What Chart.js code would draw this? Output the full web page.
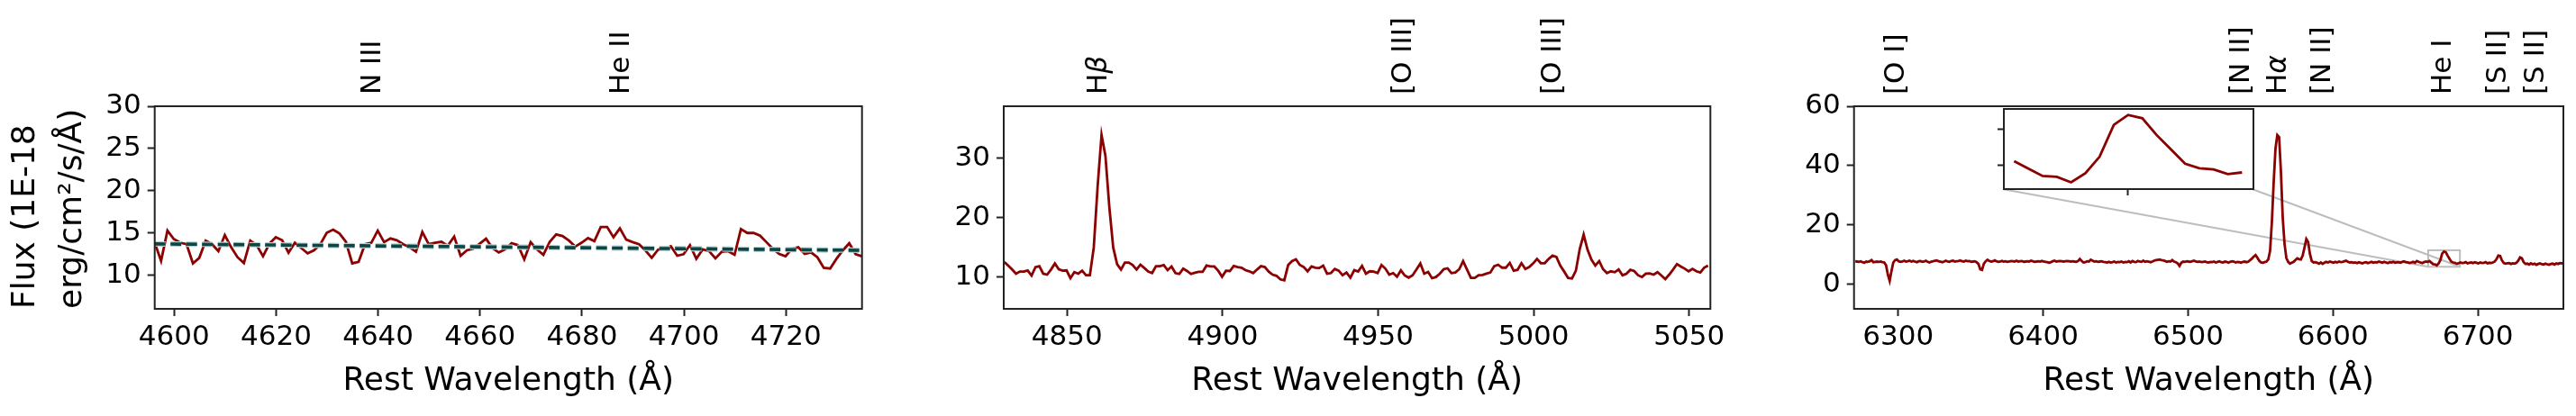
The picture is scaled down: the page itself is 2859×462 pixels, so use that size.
<!DOCTYPE html>
<html><head><meta charset="utf-8">
<script src="https://cdn.jsdelivr.net/npm/chart.js@4.4.0/dist/chart.umd.min.js"></script>
<style>
html,body{margin:0;padding:0;background:#fff;}
#wrap{position:relative;width:2859px;height:462px;overflow:hidden;background:#fff;}
canvas{position:absolute;top:0;}
</style></head><body>
<div id="wrap">
<canvas id="c1" width="975" height="462" style="left:0px"></canvas>
<canvas id="c2" width="960" height="462" style="left:975px"></canvas>
<canvas id="c3" width="924" height="462" style="left:1935px"></canvas>
<canvas id="c4" width="10" height="10" style="left:0px"></canvas>
</div>
<script>
// ---------- DATA ----------
const waveStep = 1.25;

// Panel 1 : N III / He II region
const wave1Start = 4596.18;
const flux1 = [
13.87,11.72,15.30,14.30,13.87,13.69,11.43,12.08,14.12,13.69,
12.87,14.77,13.33,12.15,11.47,14.12,13.58,12.26,13.76,14.52,
14.16,12.69,13.87,13.23,12.62,12.97,13.69,15.05,15.41,14.95,
13.98,11.43,11.61,13.69,13.87,15.30,13.94,14.37,14.16,13.69,
13.33,12.80,15.13,13.69,13.87,13.98,13.51,14.59,12.33,12.97,
13.15,13.76,14.34,13.23,12.72,13.08,13.80,
13.58,11.90,13.94,13.08,12.44,13.98,14.84,14.66,14.12,13.41,
13.87,14.41,14.05,15.73,15.73,14.52,15.56,14.23,13.94,13.69,
12.97,12.08,13.05,13.15,13.44,12.33,12.51,13.58,11.97,13.08,
12.87,12.01,12.80,12.87,12.44,15.48,15.02,15.02,14.70,13.94,
13.15,12.54,12.26,13.15,13.33,12.54,12.72,12.15,10.90,10.82,
11.97,12.97,13.80,12.51,12.26
];
const cont1 = [13.73, 12.97];
const xRange1 = [4596.18, 4734.93];
const yRange1 = [6.05, 30];
const xTicks1 = [4600, 4620, 4640, 4660, 4680, 4700, 4720];
const yTicks1 = [10, 15, 20, 25, 30];
const lineNames1 = ['N III', 'He II'];
const lineWaves1 = [4639.0, 4687.7];

// Panel 2 : Hbeta / [O III] region
const wave2Start = 4829.83;
const flux2 = [
12.53,11.92,11.26,10.56,10.91,10.91,11.11,10.25,11.67,11.82,
10.56,10.40,11.26,12.27,11.31,11.06,11.11,9.80,10.81,10.56,
11.06,10.30,10.30,14.95,25.30,33.89,30.35,21.77,14.95,12.17,
11.26,12.42,12.42,12.02,11.26,12.07,11.52,10.91,10.66,11.82,
11.82,12.02,11.16,11.77,10.66,10.51,11.41,11.01,10.51,10.71,
10.86,10.86,11.92,11.77,11.77,11.06,10.05,11.06,11.01,11.87,
11.67,11.57,11.16,10.96,10.66,11.26,11.82,11.67,10.91,10.40,
10.20,9.60,9.44,12.02,12.68,12.98,12.02,11.67,10.96,11.77,
11.57,11.52,11.92,10.56,10.66,11.36,11.06,10.30,10.76,9.90,
11.16,10.91,11.87,
10.56,10.96,10.91,10.66,12.02,11.41,10.40,10.66,10.05,11.11,
10.25,9.90,10.30,11.26,12.27,10.56,10.86,9.80,10.00,10.56,
11.31,11.46,10.66,10.76,11.31,12.68,11.26,9.85,9.85,10.30,
10.35,10.56,10.76,11.82,12.07,11.57,11.57,12.37,11.06,11.21,
12.32,11.36,11.67,12.27,13.03,12.32,12.32,13.03,13.59,13.38,
11.92,10.91,9.85,9.75,11.06,14.70,17.12,14.60,12.93,11.92,
12.68,11.31,10.66,10.96,10.81,11.26,10.30,10.56,11.21,11.01,
10.30,10.00,10.56,10.61,10.40,10.81,10.25,9.65,10.40,11.26,
12.17,11.77,11.41,10.96,11.36,10.96,10.76,11.57,11.92
];
const xRange2 = [4829.63, 5056.83];
const yRange2 = [4.65, 38.7];
const xTicks2 = [4850, 4900, 4950, 5000, 5050];
const yTicks2 = [10, 20, 30];
const lineNames2 = ['H\u03b2', '[O III]', '[O III]'];
const lineWaves2 = [4860.2, 4958.2, 5006.4];

// Panel 3 : [O I] / Halpha / [N II] / He I / [S II] region
const wave3Start = 6270.35;
const flux3 = [
7.7,7.6,7.5,7.7,7.4,7.2,7.6,7.5,7.7,8.1,
7.4,7.5,7.6,7.5,7.6,7.4,7.3,6.4,3.2,1.1,
4.4,7.3,8.1,8.3,7.7,7.5,7.6,7.9,7.6,7.7,
7.9,7.6,7.8,7.6,7.4,7.7,7.8,7.5,7.6,7.9,
7.5,7.3,7.6,7.7,7.9,8.0,7.7,7.6,7.4,7.6,
7.9,7.6,7.5,7.8,7.9,7.6,7.7,7.8,8.0,7.7,
7.6,7.9,7.7,7.8,7.5,7.6,7.7,7.4,6.8,5.0,
4.8,6.9,7.7,8.2,7.8,7.6,7.7,8.0,7.7,7.5,
7.6,7.8,7.6,7.7,7.5,7.6,7.8,7.7,7.6,7.9,
7.6,7.7,7.8,7.5,7.6,7.7,7.6,7.9,7.7,7.5,
7.6,7.7,7.6,7.8,7.6,7.5,7.4,7.2,7.4,7.7,
7.9,7.6,7.7,7.8,7.7,7.6,7.7,7.8,7.7,7.6,
7.7,7.6,7.5,7.8,8.5,7.8,7.3,7.4,7.7,7.6,
8.2,7.9,7.6,7.7,7.5,7.6,7.7,7.5,7.4,7.3,
7.5,7.3,7.4,7.6,7.3,7.5,7.4,7.6,7.3,7.5,
7.4,7.7,7.3,7.8,7.5,7.4,7.8,7.6,7.5,7.9,
7.5,7.7,7.6,7.4,7.6,7.9,8.1,8.2,8.3,8.1,
8.0,7.8,7.5,7.7,7.6,8.1,7.6,7.4,7.0,6.1,
7.2,7.6,7.5,7.7,7.6,7.5,7.7,7.9,7.6,7.5,
7.6,7.4,7.5,7.6,7.4,7.3,7.5,7.4,7.6,7.3,
7.5,7.7,7.4,7.3,7.6,7.5,7.2,7.5,7.7,7.6,
7.3,7.5,7.4,7.2,7.5,7.6,7.4,7.6,8.1,8.6,
9.3,9.8,8.9,7.9,7.3,7.2,7.4,7.6,8.3,11.2,
21.0,34.5,45.8,50.3,49.6,37.8,22.3,13.5,8.8,7.5,
6.9,7.2,7.5,8.1,8.7,8.4,8.3,9.6,12.3,15.2,
14.2,10.2,7.8,7.3,7.4,7.2,6.9,7.3,6.8,7.2,
7.5,7.3,7.6,7.4,7.2,7.5,7.3,7.6,7.4,7.5,
7.7,7.9,7.5,7.3,7.4,7.2,7.3,7.1,7.4,7.2,
7.0,7.3,7.4,7.1,7.3,7.5,7.2,7.4,7.3,7.6,
7.4,7.2,7.5,7.3,7.1,7.4,7.3,7.5,7.2,7.3,
7.4,7.2,7.5,7.7,7.4,7.3,7.1,7.3,7.5,7.2,
7.8,7.5,7.3,7.1,7.4,7.6,7.5,
7.79,7.27,6.75,6.69,6.31,6.94,8.09,10.31,11.0,10.77,
9.61,8.61,7.61,7.29,7.21,6.88,7.0,
7.3,7.1,7.2,7.4,7.0,7.2,7.3,7.1,7.4,7.2,
7.0,7.3,7.1,7.2,7.4,7.0,7.2,7.1,7.3,7.6,
8.4,9.6,9.5,8.0,7.1,6.9,
7.0,7.1,6.8,7.0,6.9,7.2,
7.9,9.0,8.7,7.4,
6.8,6.9,6.6,7.0,6.7,6.9,6.5,6.8,7.0,6.7,
6.6,6.9,6.7,6.5,6.8,6.9,6.6,7.0,6.8,7.1,7.0,7.2
];
const xRange3 = [6269.5, 6759.0];
const yRange3 = [-8.35, 60];
const xTicks3 = [6300, 6400, 6500, 6600, 6700];
const yTicks3 = [0, 20, 40, 60];
const lineNames3 = ['[O I]', '[N II]', 'H\u03b1', '[N II]', 'He I', '[S II]', '[S II]'];
const lineWaves3 = [6298.8, 6536.9, 6562.4, 6592.9, 6676.2, 6714.2, 6740.3];

// Inset (zoom on He I)
const insetFirst = 317, insetLast = 333;
const insetXRange = [6665.7, 6687.6];
const insetYRange = [5.84, 11.42];
const insetXTicks = [6676.6];
const insetYTicks = [7.5, 10];

// ---------- STYLE / LAYOUT ----------
const FONT = 'DejaVu Sans';
const RED = '#8b0000';
const FRAME = '#222222';
const waves = (start, arr) => arr.map((_, i) => start + i * waveStep);
const pts = (start, arr) => arr.map((y, i) => ({x: start + i * waveStep, y}));

function drawRich(ctx, text, size) {
  let x = 0;
  for (const ch of text) {
    const it = /[\u0391-\u03c9]/.test(ch);
    ctx.font = (it ? 'italic ' : '') + size + 'px "' + FONT + '"';
    ctx.fillText(ch, x, 0);
    x += ctx.measureText(ch).width;
  }
}

const framePlugin = {
  id: 'frame',
  afterDatasetsDraw(chart) {
    const a = chart.chartArea, ctx = chart.ctx;
    ctx.save();
    ctx.strokeStyle = FRAME; ctx.lineWidth = 2;
    ctx.strokeRect(a.left, a.top, a.right - a.left, a.bottom - a.top);
    ctx.restore();
  }
};

function lineLabelPlugin(names, wl) {
  return {
    id: 'lineLabels',
    afterDraw(chart) {
      const ctx = chart.ctx, xs = chart.scales.x, top = chart.chartArea.top;
      ctx.save();
      ctx.fillStyle = '#000';
      ctx.textAlign = 'left'; ctx.textBaseline = 'middle';
      names.forEach((n, i) => {
        const x = xs.getPixelForValue(wl[i]);
        ctx.save();
        ctx.translate(x, top - 13);
        ctx.rotate(-Math.PI / 2);
        drawRich(ctx, n, 31);
        ctx.restore();
      });
      ctx.restore();
    }
  };
}

function axisX(range, ticks, h, showTitle) {
  return {
    type: 'linear', min: range[0], max: range[1],
    afterBuildTicks: s => { s.ticks = ticks.map(v => ({value: v})); },
    afterFit: s => { s.height = h; },
    grid: {display: true, drawOnChartArea: false, drawTicks: true, tickLength: 8, tickWidth: 2, tickColor: FRAME},
    border: {display: false},
    ticks: {font: {family: FONT, size: 31}, color: '#000', padding: 5, maxRotation: 0, autoSkip: false,
            callback: v => String(v)},
    title: {display: showTitle, text: 'Rest Wavelength (\u00c5)', color: '#000',
            font: {family: FONT, size: 36, lineHeight: 1.2}, padding: {top: 0, bottom: 16.4}}
  };
}
function axisY(range, ticks, w, title) {
  return {
    type: 'linear', min: range[0], max: range[1],
    afterBuildTicks: s => { s.ticks = ticks.map(v => ({value: v})); },
    afterFit: s => { s.width = w; },
    grid: {display: true, drawOnChartArea: false, drawTicks: true, tickLength: 8, tickWidth: 2, tickColor: FRAME},
    border: {display: false},
    ticks: {font: {family: FONT, size: 31}, color: '#000', padding: 7, callback: v => String(v)},
    title: title ? {display: true, text: title, align: 'start', color: '#000',
            font: {family: FONT, size: 36, lineHeight: 1.444}, padding: {top: 2.7, bottom: 0}} : {display: false}
  };
}

function baseOptions(pad, xs, ys) {
  return {
    responsive: false, animation: false, devicePixelRatio: 1, events: [],
    layout: {padding: pad},
    plugins: {legend: {display: false}, tooltip: {enabled: false}},
    scales: {x: xs, y: ys}
  };
}
const specDS = (data) => ({data, borderColor: RED, borderWidth: 2.8, pointRadius: 0, tension: 0, fill: false});

// ---------- PANEL 1 ----------
const w1 = waves(wave1Start, flux1);
new Chart(document.getElementById('c1'), {
  type: 'line',
  data: {datasets: [
    {data: [{x: w1[0], y: cont1[0]}, {x: w1[w1.length - 1], y: cont1[1]}], borderColor: '#0d4444',
     borderWidth: 3.6, borderDash: [12, 5.5], pointRadius: 0, fill: false},
    {data: [{x: w1[0], y: cont1[0]}, {x: w1[w1.length - 1], y: cont1[1]}], borderColor: '#b7d0d0',
     borderWidth: 6, borderDash: [12, 5.5], pointRadius: 0, fill: false},
    specDS(pts(wave1Start, flux1))
  ]},
  options: baseOptions({left: 0, top: 118, right: 975 - 956.7, bottom: 0},
    axisX(xRange1, xTicks1, 119, true),
    axisY(yRange1, yTicks1, 171.7, ['Flux (1E-18', 'erg/cm\u00b2/s/\u00c5)'])),
  plugins: [framePlugin, lineLabelPlugin(lineNames1, lineWaves1)]
});

// ---------- PANEL 2 ----------
new Chart(document.getElementById('c2'), {
  type: 'line',
  data: {datasets: [specDS(pts(wave2Start, flux2))]},
  options: baseOptions({left: 0, top: 118, right: 960 - (1898.3 - 975), bottom: 0},
    axisX(xRange2, xTicks2, 119, true),
    axisY(yRange2, yTicks2, 1114 - 975, null)),
  plugins: [framePlugin, lineLabelPlugin(lineNames2, lineWaves2)]
});

// ---------- PANEL 3 ----------
const c3Left = 1935;
const insetFrac = {left: 0.2108, right: 0.5622, top: 0.0133, bottom: 0.4102};
function insetBox(a) {
  const w = a.right - a.left, h = a.bottom - a.top;
  return {left: a.left + insetFrac.left * w, right: a.left + insetFrac.right * w,
          top: a.top + insetFrac.top * h, bottom: a.top + insetFrac.bottom * h};
}
const markInset = {
  id: 'markInset',
  beforeDatasetsDraw(chart) {
    const ctx = chart.ctx, xs = chart.scales.x, ys = chart.scales.y;
    const rx0 = xs.getPixelForValue(insetXRange[0]), rx1 = xs.getPixelForValue(insetXRange[1]);
    const ry0 = ys.getPixelForValue(insetYRange[1]), ry1 = ys.getPixelForValue(insetYRange[0]);
    const b = insetBox(chart.chartArea);
    ctx.save();
    ctx.strokeStyle = '#bdbdbd'; ctx.lineWidth = 2;
    ctx.strokeRect(rx0, ry0, rx1 - rx0, ry1 - ry0);
    ctx.beginPath();
    ctx.moveTo(b.left, b.bottom); ctx.lineTo(rx0, ry1);
    ctx.moveTo(b.right, b.bottom); ctx.lineTo(rx1, ry1);
    ctx.stroke();
    ctx.restore();
  }
};
const chart3 = new Chart(document.getElementById('c3'), {
  type: 'line',
  data: {datasets: [specDS(pts(wave3Start, flux3))]},
  options: baseOptions({left: 0, top: 118, right: 2859 - 2845, bottom: 0},
    axisX(xRange3, xTicks3, 119, true),
    axisY(yRange3, yTicks3, 2057.7 - c3Left, null)),
  plugins: [markInset, framePlugin, lineLabelPlugin(lineNames3, lineWaves3)]
});

// ---------- INSET ----------
const ib = insetBox(chart3.chartArea);
const m = 10;
const c4 = document.getElementById('c4');
const iw = Math.round(ib.right - ib.left) + 2 * m, ih = Math.round(ib.bottom - ib.top) + 2 * m;
c4.width = iw; c4.height = ih;
c4.style.left = (c3Left + ib.left - m) + 'px';
c4.style.top = (ib.top - m) + 'px';
const whiteBg = {
  id: 'whiteBg',
  beforeDraw(chart) {
    const a = chart.chartArea, ctx = chart.ctx;
    ctx.save(); ctx.fillStyle = '#fff';
    ctx.fillRect(a.left, a.top, a.right - a.left, a.bottom - a.top);
    ctx.restore();
  }
};
const insetAxis = (range, ticks, horiz) => ({
  type: 'linear', min: range[0], max: range[1],
  afterBuildTicks: s => { s.ticks = ticks.map(v => ({value: v})); },
  afterFit: s => { if (horiz) s.height = m; else s.width = m; },
  grid: {display: true, drawOnChartArea: false, drawTicks: true, tickLength: 7, tickWidth: 2, tickColor: FRAME},
  border: {display: false},
  ticks: {display: false}
});
new Chart(c4, {
  type: 'line',
  data: {datasets: [specDS(pts(wave3Start + insetFirst * waveStep, flux3.slice(insetFirst, insetLast + 1)))]},
  options: baseOptions({left: 0, top: m, right: m, bottom: 0},
    insetAxis(insetXRange, insetXTicks, true),
    insetAxis(insetYRange, insetYTicks, false)),
  plugins: [whiteBg, framePlugin]
});
</script>
</body></html>
